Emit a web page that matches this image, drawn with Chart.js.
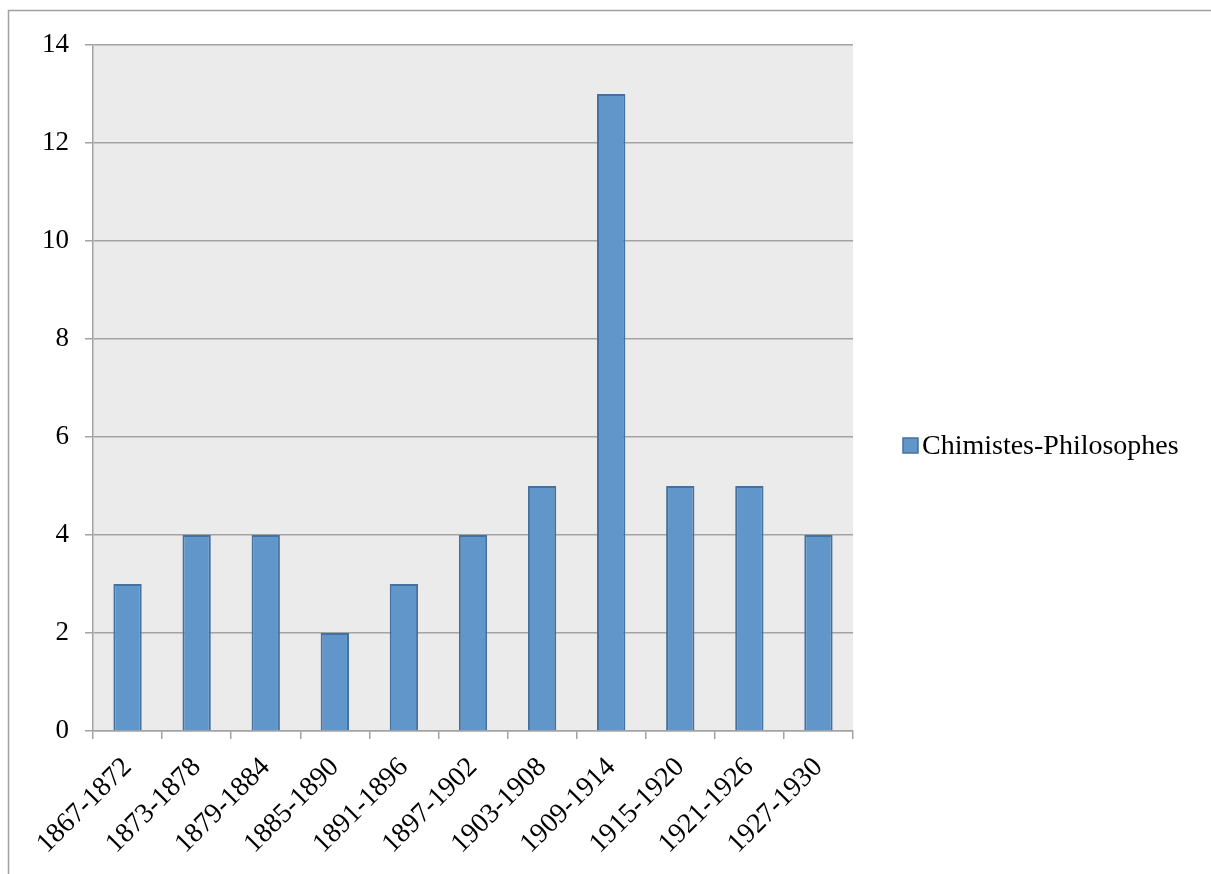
<!DOCTYPE html>
<html>
<head>
<meta charset="utf-8">
<script src="https://cdn.jsdelivr.net/npm/chart.js@4"></script>
<style>
  html, body { margin: 0; padding: 0; background: #fff; }
  #wrap { position: relative; width: 1211px; height: 874px; }
</style>
</head>
<body>
<div id="wrap"><canvas id="chart" width="1211" height="874"></canvas></div>
<script>
// data
const periods = ['1867-1872', '1873-1878', '1879-1884', '1885-1890', '1891-1896', '1897-1902',
  '1903-1908', '1909-1914', '1915-1920', '1921-1926', '1927-1930'];
const counts = [3, 4, 4, 2, 3, 4, 5, 13, 5, 5, 4];
const seriesName = 'Chimistes-Philosophes';
const yTicks = [0, 2, 4, 6, 8, 10, 12, 14];

const FONT = '"Liberation Serif", "Times New Roman", serif';
const barFill = '#6096c9';
const barEdge = '#44719e';
const gridCol = '#a3a3a3';

// frame, plot background and the legend on the right
const decor = {
  id: 'decor',
  beforeDraw(chart) {
    const c = chart.ctx, a = chart.chartArea;
    c.save();
    c.fillStyle = '#ebebeb';
    c.fillRect(a.left, a.top, a.right - a.left, a.bottom - a.top);
    c.strokeStyle = '#a0a0a0';
    c.lineWidth = 1.5;
    c.beginPath();
    c.moveTo(8.5, 874); c.lineTo(8.5, 10.5); c.lineTo(1211, 10.5);
    c.stroke();
    c.restore();
  },
  afterDraw(chart) {
    const c = chart.ctx;
    const ds = chart.data.datasets[0];
    c.save();
    c.fillStyle = ds.backgroundColor;
    c.fillRect(903, 438, 15, 15);
    c.strokeStyle = ds.borderColor;
    c.lineWidth = 1.5;
    c.strokeRect(903, 438, 15, 15);
    c.fillStyle = '#000';
    c.font = '28px ' + FONT;
    c.textBaseline = 'middle';
    c.fillText(ds.label, 922, 447);
    c.restore();
  }
};

new Chart(document.getElementById('chart'), {
  type: 'bar',
  data: {
    labels: periods,
    datasets: [{
      label: seriesName,
      data: counts,
      backgroundColor: barFill,
      borderColor: barEdge,
      borderWidth: 2,
      barPercentage: 0.41,
      categoryPercentage: 1
    }]
  },
  options: {
    responsive: false,
    animation: false,
    layout: { padding: { left: 0, top: 45, right: 358, bottom: 0 } },
    plugins: { legend: { display: false }, tooltip: { enabled: false } },
    scales: {
      x: {
        grid: { offset: true, drawOnChartArea: false, color: gridCol, tickLength: 8, lineWidth: 1.5 },
        border: { color: gridCol, width: 1.5 },
        ticks: { color: '#000', font: { family: FONT, size: 28 }, minRotation: 45, maxRotation: 45, padding: 12 },
        afterFit(s) { s.height = 143; }
      },
      y: {
        min: 0, max: 14,
        afterBuildTicks(s) { s.ticks = yTicks.map(v => ({ value: v })); },
        grid: { color: gridCol, tickLength: 8, lineWidth: 1.5 },
        border: { color: gridCol, width: 1.5 },
        ticks: { color: '#000', font: { family: FONT, size: 27 }, padding: 16 },
        afterFit(s) { s.width = 93; }
      }
    }
  },
  plugins: [decor]
});
</script>
</body>
</html>
